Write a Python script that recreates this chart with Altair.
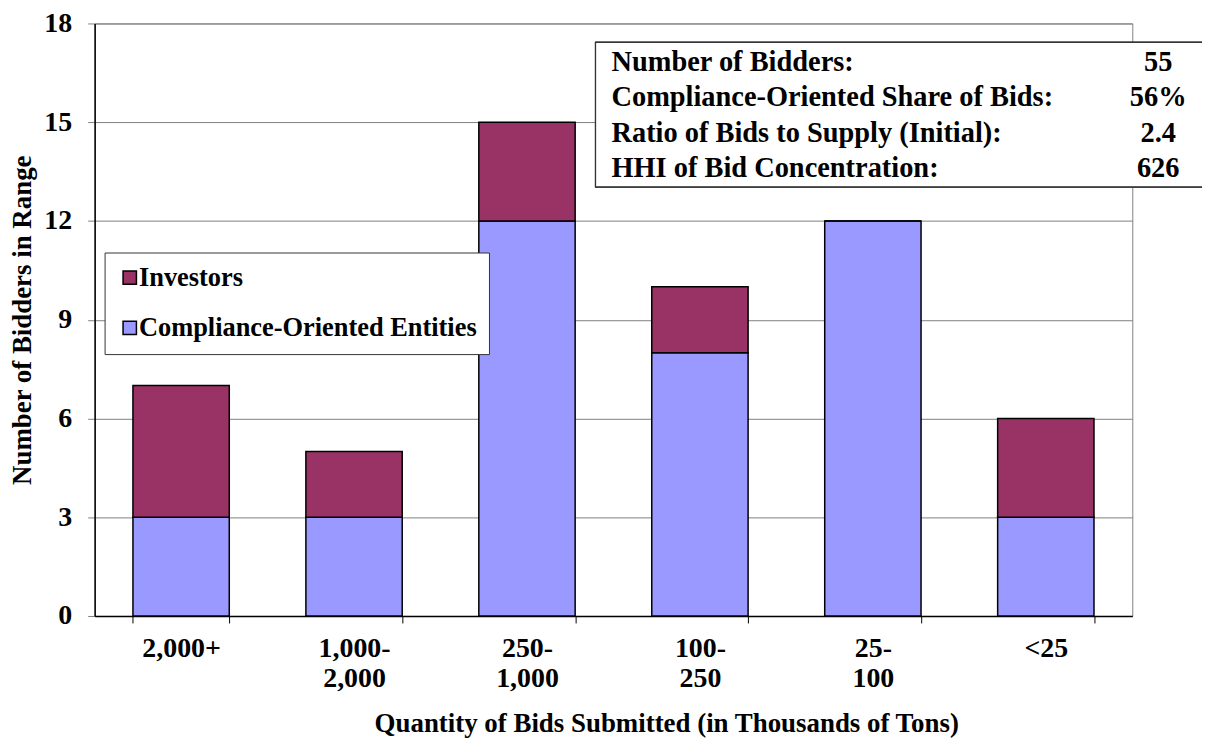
import altair as alt
import pandas as pd

categories = ["2,000+", "1,000- 2,000", "250- 1,000", "100- 250", "25- 100", "<25"]
compliance = [3, 3, 12, 8, 12, 3]
investors = [4, 2, 3, 2, 0, 3]
series_names = ["Investors", "Compliance-Oriented Entities"]
series_colors = ["#993366", "#9999FF"]
y_ticks = [0, 3, 6, 9, 12, 15, 18]
stat_labels = [
    "Number of Bidders:",
    "Compliance-Oriented Share of Bids:",
    "Ratio of Bids to Supply (Initial):",
    "HHI of Bid Concentration:",
]
stat_values = ["55", "56%", "2.4", "626"]

rows = []
for c, comp, inv in zip(categories, compliance, investors):
    rows.append({"bin": c, "series": series_names[1], "count": comp, "stackorder": 0})
    rows.append({"bin": c, "series": series_names[0], "count": inv, "stackorder": 1})
df = pd.DataFrame(rows)

stats_df = pd.DataFrame({"label": stat_labels, "value": stat_values, "row": list(range(len(stat_labels)))})

FONT = "Liberation Serif"
W, H = 1042, 595

bars = alt.Chart(df).mark_bar(stroke="black", strokeWidth=1.5).encode(
    x=alt.X(
        "bin:N",
        sort=categories,
        scale=alt.Scale(paddingInner=0.443, paddingOuter=0.2215),
        axis=alt.Axis(
            title="Quantity of Bids Submitted (in Thousands of Tons)",
            labelAngle=0,
            labelExpr="split(datum.label, ' ')",
            labelLineHeight=30,
            labelPadding=12,
            labelFont=FONT, labelFontSize=28, labelFontWeight="bold", labelColor="black",
            tickBand="extent", tickSize=7, tickColor="black", tickWidth=1,
            domainColor="black", domainWidth=1.5,
            titleFont=FONT, titleFontSize=27, titleFontWeight="bold", titleColor="black",
            titleX=574, titleY=116, titleAlign="center", titleBaseline="alphabetic",
            grid=False,
        ),
    ),
    y=alt.Y(
        "count:Q",
        stack="zero",
        scale=alt.Scale(domain=[0, 18], nice=False),
        axis=alt.Axis(
            title="Number of Bidders in Range",
            values=y_ticks,
            labelFont=FONT, labelFontSize=28, labelFontWeight="bold", labelColor="black",
            labelPadding=16,
            tickSize=7, tickColor="#808080", tickWidth=1,
            domainColor="black", domainWidth=1.5,
            grid=True, gridColor="#808080", gridWidth=1,
            titleFont=FONT, titleFontSize=27, titleFontWeight="bold", titleColor="black",
            titleX=-72, titleY=297.5, titleAngle=270, titleAlign="center", titleBaseline="middle",
        ),
    ),
    color=alt.Color(
        "series:N",
        scale=alt.Scale(domain=series_names, range=series_colors),
        legend=alt.Legend(
            title=None,
            orient="none",
            legendX=10,
            legendY=230,
            fillColor="white",
            strokeColor="#333333",
            padding=12,
            symbolType="square",
            symbolSize=180,
            symbolStrokeColor="black",
            symbolStrokeWidth=1.5,
            labelFont=FONT, labelFontSize=26.5, labelFontWeight="bold", labelColor="black",
            labelOffset={"expr": "-4"},
            labelLimit=1000,
            rowPadding=23.5,
        ),
    ),
    order=alt.Order("stackorder:Q", sort="ascending"),
)

box = alt.Chart(stats_df).mark_rect(fill="white", stroke="#333333", strokeWidth=1.2).encode(
    x=alt.value(503), x2=alt.value(1114), y=alt.value(19), y2=alt.value(164)
)

ypos = alt.Y("row:O", scale=alt.Scale(type="point", range=[39, 145], padding=0), axis=None)

stat_text = alt.Chart(stats_df).mark_text(
    font=FONT, fontSize=28.5, fontWeight="bold", color="black", align="left", baseline="middle"
).encode(x=alt.value(519), y=ypos, text="label:N")

stat_vals = alt.Chart(stats_df).mark_text(
    font=FONT, fontSize=28.5, fontWeight="bold", color="black", align="center", baseline="middle"
).encode(x=alt.value(1068), y=ypos, text="value:N")

chart = (
    alt.layer(bars, box, stat_text, stat_vals)
    .resolve_scale(y="independent")
    .properties(
        width=W,
        height=H,
        autosize=alt.AutoSizeParams(type="none"),
        padding={"left": 87, "top": 14, "right": 70, "bottom": 122},
        background="white",
    )
    .configure_view(stroke="#808080", strokeWidth=1)
)

chart.save("out.html", embed_options={"renderer": "svg", "actions": False})
